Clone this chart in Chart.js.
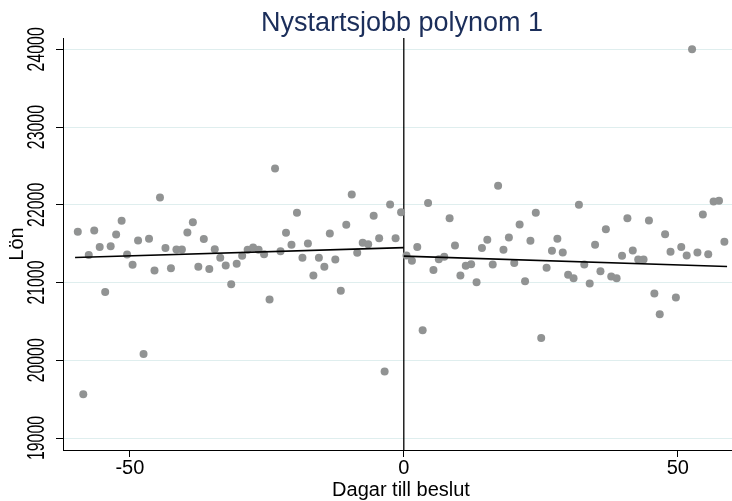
<!DOCTYPE html>
<html>
<head>
<meta charset="utf-8">
<script src="https://cdn.jsdelivr.net/npm/chart.js@4.4.0/dist/chart.umd.min.js"></script>
<style>
  html, body { margin: 0; padding: 0; background: #ffffff; }
  #wrap { width: 732px; height: 501px; }
</style>
</head>
<body>
<div id="wrap"><canvas id="chart" width="732" height="501"></canvas></div>
<script>
// Bin midpoints (days relative to the decision) and mean wage per bin
const daysBefore = [
  -59.5, -58.5, -57.5, -56.5, -55.5, -54.5, -53.5, -52.5, -51.5, -50.5,
  -49.5, -48.5, -47.5, -46.5, -45.5, -44.5, -43.5, -42.5, -41.5, -40.5,
  -39.5, -38.5, -37.5, -36.5, -35.5, -34.5, -33.5, -32.5, -31.5, -30.5,
  -29.5, -28.5, -27.5, -26.5, -25.5, -24.5, -23.5, -22.5, -21.5, -20.5,
  -19.5, -18.5, -17.5, -16.5, -15.5, -14.5, -13.5, -12.5, -11.5, -10.5,
  -9.5, -8.5, -7.5, -6.5, -5.5, -4.5, -3.5, -2.5, -1.5, -0.5
];
const lonBefore = [
  21652, 19564, 21356, 21669, 21459, 20880, 21468, 21618, 21794, 21360,
  21228, 21541, 20082, 21562, 21154, 22094, 21443, 21185, 21425, 21425,
  21643, 21777, 21202, 21559, 21176, 21430, 21318, 21219, 20979, 21241,
  21344, 21421, 21451, 21421, 21365, 20781, 22467, 21404, 21640, 21485,
  21897, 21318, 21502, 21090, 21318, 21202, 21631, 21296, 20893, 21743,
  22133, 21382, 21511, 21494, 21858, 21571, 19855, 22004, 21571, 21906
];
const daysAfter = [
  0.49, 1.48, 2.46, 3.44, 4.43, 5.41, 6.39, 7.38, 8.36, 9.34,
  10.33, 11.31, 12.29, 13.28, 14.26, 15.24, 16.23, 17.21, 18.19, 19.18,
  20.16, 21.14, 22.13, 23.11, 24.09, 25.08, 26.06, 27.04, 28.03, 29.01,
  29.99, 30.98, 31.96, 32.94, 33.93, 34.91, 35.89, 36.88, 37.86, 38.84,
  39.83, 40.81, 41.79, 42.78, 43.76, 44.74, 45.73, 46.71, 47.69, 48.68,
  49.66, 50.64, 51.63, 52.61, 53.59, 54.58, 55.56, 56.54, 57.53, 58.51
];
const lonAfter = [
  21348, 21280, 21459, 20386, 22022, 21160, 21301, 21331, 21828, 21476,
  21090, 21215, 21237, 21005, 21443, 21550, 21232, 22245, 21421, 21579,
  21250, 21747, 21018, 21537, 21897, 20288, 21189, 21408, 21562, 21386,
  21099, 21057, 22000, 21233, 20987, 21485, 21147, 21687, 21077, 21057,
  21344, 21828, 21412, 21296, 21296, 21798, 20858, 20593, 21623, 21395,
  20807, 21459, 21348, 24000, 21386, 21875, 21365, 22043, 22052, 21524
];

// Linear fits on each side of the cutoff (endpoints)
const fitBeforeDays = [-60, 0];
const fitBeforeLon = [21322, 21450];
const fitAfterDays = [0, 59];
const fitAfterLon = [21340, 21206];

const cutoffDay = 0;
const xTickValues = [-50, 0, 50];
const yTickValues = [19000, 20000, 21000, 22000, 23000, 24000];

const chartTitle = 'Nystartsjobb polynom 1';
const xTitle = 'Dagar till beslut';
const yTitle = 'Lön';

const FONT = "'Liberation Sans', Arial, Helvetica, sans-serif";
const DOT = '#919393';

function toPoints(xs, ys) {
  return xs.map((x, i) => ({ x: x, y: ys[i] }));
}

// Title, cutoff line, x-axis title and the rotated y tick labels
const decorations = {
  id: 'decorations',
  beforeDatasetsDraw(chart) {
    const { ctx, chartArea, scales } = chart;
    const px = scales.x.getPixelForValue(cutoffDay);
    ctx.save();
    ctx.strokeStyle = '#000000';
    ctx.lineWidth = 1.3;
    ctx.beginPath();
    ctx.moveTo(px, chartArea.top);
    ctx.lineTo(px, chartArea.bottom);
    ctx.stroke();
    ctx.restore();
  },
  afterDraw(chart) {
    const { ctx, scales } = chart;
    ctx.save();
    ctx.fillStyle = '#1b2e5a';
    ctx.font = '27px ' + FONT;
    ctx.textAlign = 'center';
    ctx.textBaseline = 'alphabetic';
    ctx.fillText(chartTitle, 402, 31);

    ctx.fillStyle = '#000000';
    ctx.font = '20px ' + FONT;
    ctx.textBaseline = 'middle';
    ctx.fillText(xTitle, 401, 490);

    ctx.font = '23px ' + FONT;
    yTickValues.forEach(v => {
      const py = scales.y.getPixelForValue(v);
      ctx.save();
      ctx.translate(38, py);
      ctx.rotate(-Math.PI / 2);
      ctx.scale(0.69, 1);
      ctx.fillText(String(v), 0, 0);
      ctx.restore();
    });
    ctx.restore();
  }
};

Chart.defaults.font.family = FONT;
Chart.defaults.color = '#000000';

new Chart(document.getElementById('chart'), {
  type: 'scatter',
  data: {
    datasets: [
      {
        type: 'line',
        data: toPoints(fitBeforeDays, fitBeforeLon),
        borderColor: '#000000',
        borderWidth: 1.6,
        pointRadius: 0,
        fill: false,
        order: 0
      },
      {
        type: 'line',
        data: toPoints(fitAfterDays, fitAfterLon),
        borderColor: '#000000',
        borderWidth: 1.6,
        pointRadius: 0,
        fill: false,
        order: 0
      },
      {
        data: toPoints(daysBefore, lonBefore),
        backgroundColor: DOT,
        borderWidth: 0,
        pointRadius: 4,
        order: 1
      },
      {
        data: toPoints(daysAfter, lonAfter),
        backgroundColor: DOT,
        borderWidth: 0,
        pointRadius: 4,
        order: 1
      }
    ]
  },
  options: {
    responsive: false,
    animation: false,
    devicePixelRatio: 1,
    layout: { autoPadding: false, padding: { top: 38, left: 0, right: 0, bottom: 0 } },
    plugins: {
      legend: { display: false },
      tooltip: { enabled: false },
      title: { display: false }
    },
    scales: {
      x: {
        type: 'linear',
        min: -62.2,
        max: 59.9,
        afterBuildTicks: s => { s.ticks = xTickValues.map(v => ({ value: v })); },
        afterFit: s => { s.height = 51; s.paddingLeft = 0; s.paddingRight = 0; },
        border: { color: '#000000', width: 1 },
        grid: {
          drawOnChartArea: false,
          tickLength: 7,
          tickColor: '#000000'
        },
        ticks: {
          font: { size: 20, lineHeight: 1 },
          color: '#000000',
          padding: 1,
          maxRotation: 0,
          minRotation: 0
        },
        title: { display: false }
      },
      y: {
        type: 'linear',
        min: 18846,
        max: 24146,
        afterBuildTicks: s => { s.ticks = yTickValues.map(v => ({ value: v })); },
        afterFit: s => { s.width = 63; s.paddingTop = 0; s.paddingBottom = 0; },
        border: { color: '#000000', width: 1 },
        grid: {
          color: '#dfeeee',
          lineWidth: 1,
          tickLength: 7,
          tickColor: '#000000'
        },
        ticks: { display: false },
        title: {
          display: true,
          text: yTitle,
          font: { size: 20 },
          color: '#000000',
          padding: { top: 5, bottom: 0 }
        }
      }
    }
  },
  plugins: [decorations]
});
</script>
</body>
</html>
